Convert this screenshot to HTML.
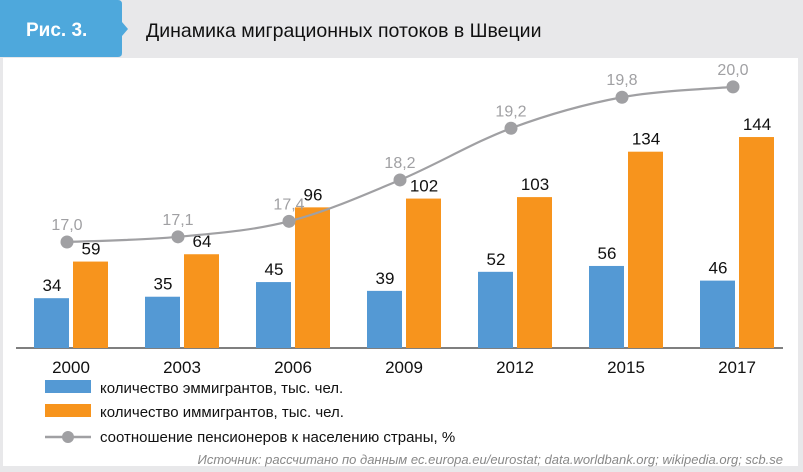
<!DOCTYPE html>
<html><head><meta charset="utf-8"><style>
body{margin:0;width:803px;height:472px;overflow:hidden;background:#e8e8ea;font-family:"Liberation Sans",sans-serif}
#panel{position:absolute;left:3px;top:58px;width:795px;height:408px;background:#fff}
</style></head><body>
<div id="panel"></div>
<svg width="803" height="472" style="position:absolute;left:0;top:0">
<path d="M0,0H118Q122,0 122,4V22L128,29L122,36V53Q122,57 118,57H0Z" fill="#4ea8dc"/>
<text x="26" y="36" font-size="19" font-weight="bold" fill="#fff">Рис. 3.</text>
<text x="146" y="37" font-size="19.5" fill="#111">Динамика миграционных потоков в Швеции</text>
<line x1="16" y1="348" x2="783" y2="348" stroke="#333" stroke-width="1.3"/>
<g id="bars"></g>
<g id="line"></g>
<g>
<rect x="45" y="380" width="46" height="13" fill="#5499d4"/>
<text x="100" y="393" font-size="15" fill="#111">количество эммигрантов, тыс. чел.</text>
<rect x="45" y="404" width="46" height="13" fill="#f7941d"/>
<text x="100" y="417" font-size="15" fill="#111">количество иммигрантов, тыс. чел.</text>
<line x1="45" y1="437" x2="91" y2="437" stroke="#a0a0a3" stroke-width="2.5"/>
<circle cx="68" cy="437" r="6" fill="#a0a0a3"/>
<text x="100" y="442" font-size="15" fill="#111">соотношение пенсионеров к населению страны, %</text>
</g>
<text x="783" y="464" text-anchor="end" font-size="13" font-style="italic" fill="#888">Источник: рассчитано по данным ec.europa.eu/eurostat; data.worldbank.org; wikipedia.org; scb.se</text>
</svg>
<script>
const years=["2000","2003","2006","2009","2012","2015","2017"];
const emigrants=[34,35,45,39,52,56,46];
const immigrants=[59,64,96,102,103,134,144];
const ratio=[17.0,17.1,17.4,18.2,19.2,19.8,20.0];
const ratioLabels=["17,0","17,1","17,4","18,2","19,2","19,8","20,0"];
const NS="http://www.w3.org/2000/svg";
const base=348;
const xc=i=>71+i*111;
const yb=v=>base-v*1.465;
const yl=v=>242-(v-17)*51.7;
function mk(t,a,p){const e=document.createElementNS(NS,t);for(const k in a)e.setAttribute(k,a[k]);p.appendChild(e);return e;}
const bars=document.getElementById('bars'),line=document.getElementById('line');
years.forEach((y,i)=>{
 const x=xc(i);
 let r=mk('rect',{x:x-37,y:yb(emigrants[i]),width:35,height:emigrants[i]*1.465,fill:'#5499d4'},bars);
 
 
 r=mk('rect',{x:x+2,y:yb(immigrants[i]),width:35,height:immigrants[i]*1.465,fill:'#f7941d'},bars);
 
 
 let t=mk('text',{x:x-19,y:yb(emigrants[i])-7,'text-anchor':'middle','font-size':17,fill:'#111'},bars);t.textContent=emigrants[i];
 
 
 t=mk('text',{x:x+20,y:yb(immigrants[i])-7,'text-anchor':'middle','font-size':17,fill:'#111'},bars);t.textContent=immigrants[i];
 
 
 t=mk('text',{x:x,y:base+25,'text-anchor':'middle','font-size':17,fill:'#111'},bars);t.textContent=y;
 
 
});
const pts=ratio.map((v,i)=>[xc(i)-4,yl(v)]);
let d='M'+pts[0][0]+','+pts[0][1];
for(let i=0;i<pts.length-1;i++){
 const p0=pts[Math.max(0,i-1)],p1=pts[i],p2=pts[i+1],p3=pts[Math.min(pts.length-1,i+2)];
 const c1=[p1[0]+(p2[0]-p0[0])/6,p1[1]+(p2[1]-p0[1])/6],c2=[p2[0]-(p3[0]-p1[0])/6,p2[1]-(p3[1]-p1[1])/6];
 d+=' C'+c1+' '+c2+' '+p2;
}
const pl=mk('path',{d:d,fill:'none',stroke:'#a0a0a3','stroke-width':2.2},line);


pts.forEach((p,i)=>{
 const c=mk('circle',{cx:p[0],cy:p[1],r:6.5,fill:'#a0a0a3'},line);
 
 
 const t=mk('text',{x:p[0],y:p[1]-12,'text-anchor':'middle','font-size':16,fill:'#a0a0a3'},line);t.textContent=ratioLabels[i];
 
 
});
</script>
</body></html>
